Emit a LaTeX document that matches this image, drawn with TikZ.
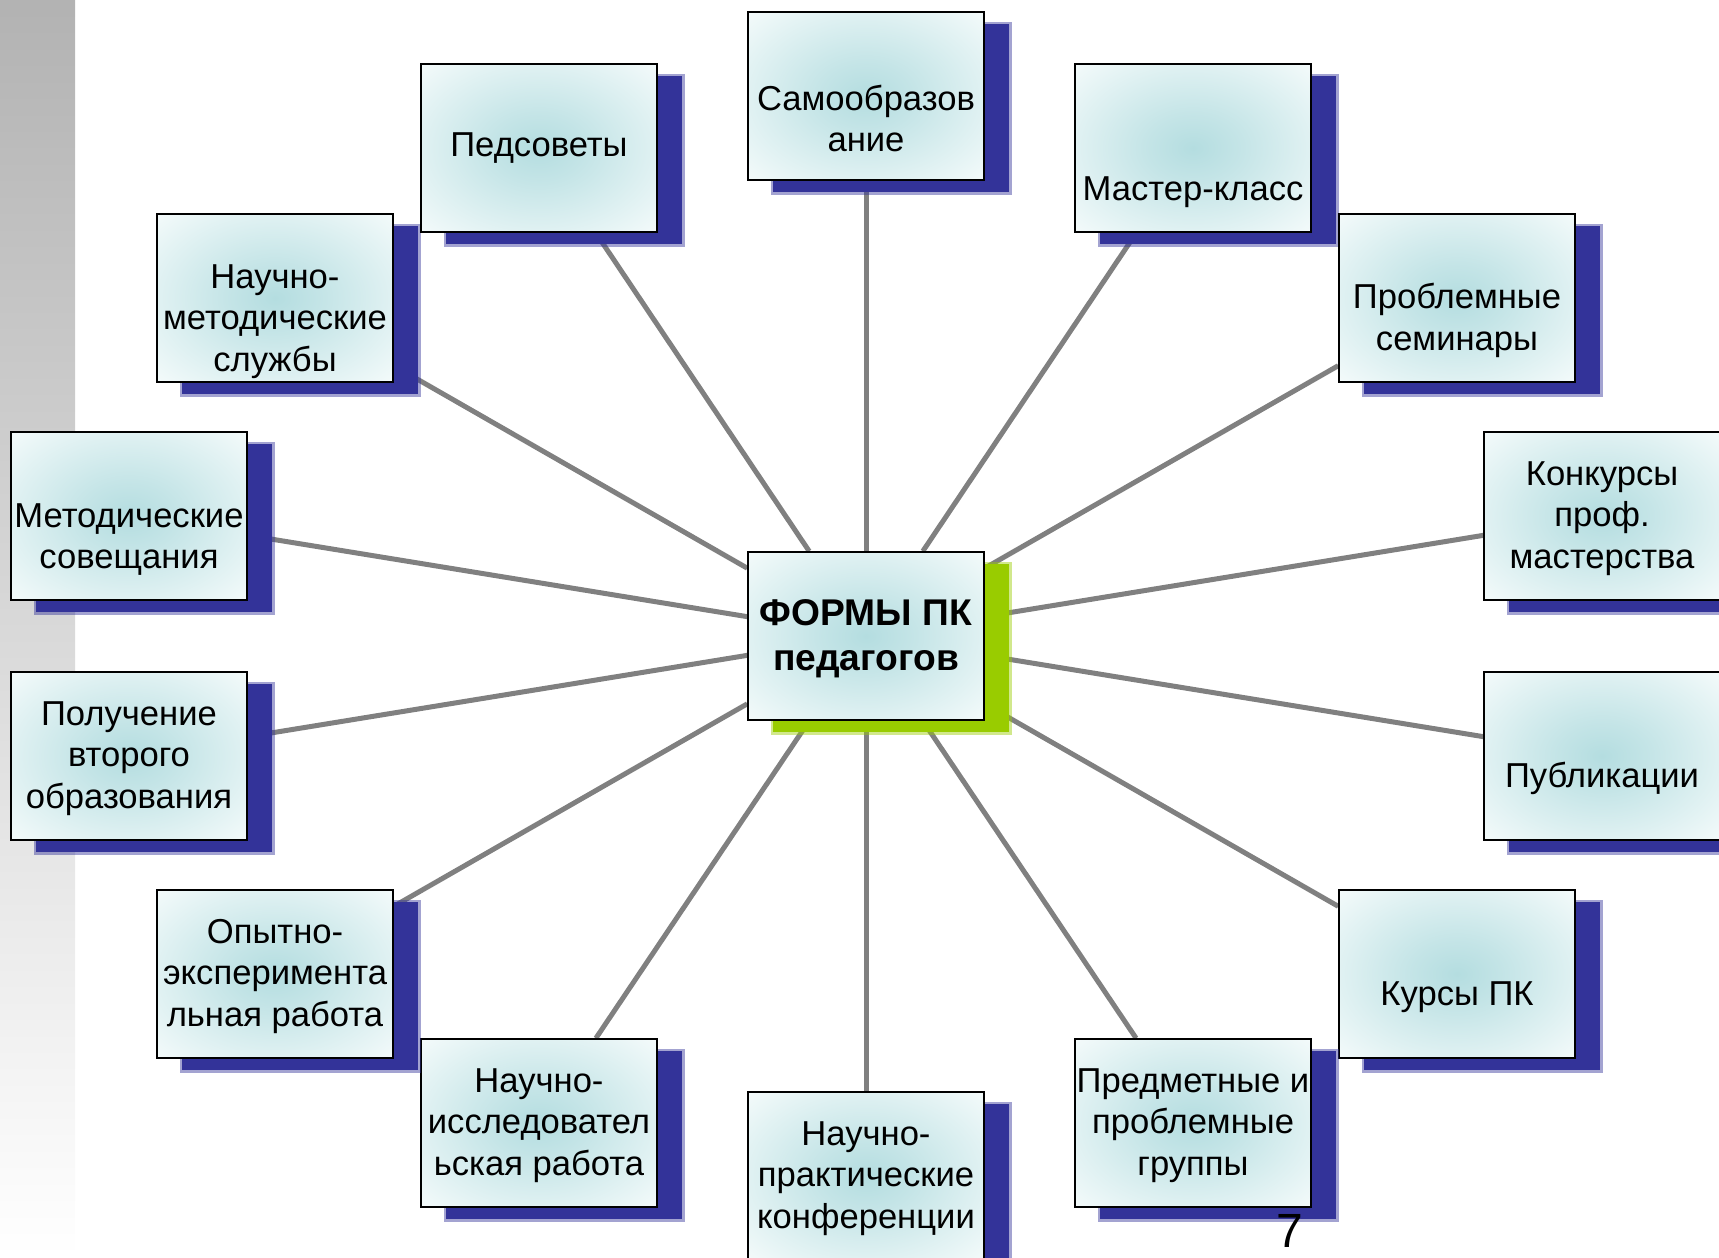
\documentclass[tikz,border=0pt]{standalone}
\usepackage{fontspec}
\setmainfont{Liberation Sans}
\usetikzlibrary{shadows,backgrounds}

\definecolor{shadowblue}{RGB}{51,51,153}
\definecolor{hubgreen}{RGB}{153,204,0}
\definecolor{spokegray}{RGB}{128,128,128}
\definecolor{glowcore}{RGB}{180,221,224}
\definecolor{glowrim}{RGB}{245,251,251}
\pgfdeclareradialshading{glow}{\pgfpoint{0bp}{0bp}}{color(0bp)=(glowcore); color(10bp)=(glowcore!75!glowrim); color(36bp)=(glowrim); color(50bp)=(glowrim)}

\begin{document}
\begin{tikzpicture}[x=0.5pt,y=-0.5pt]

%
% Styles
%
\tikzstyle{card} = [rectangle,draw=black,line width=0.8pt,shading=glow,
                    minimum width=118pt,minimum height=84pt,inner sep=0pt,align=center]
\tikzstyle{topic} = [card,font=\fontsize{17.3}{20.8}\selectfont,
                     drop shadow={shadow xshift=12.5pt,shadow yshift=-6pt,fill=shadowblue,
                                  fill opacity=1,draw=shadowblue,line width=2.5pt,draw opacity=.45}]
\tikzstyle{hub} = [card,font=\fontsize{18.6}{22.4}\selectfont\bfseries,
                   drop shadow={shadow xshift=12.5pt,shadow yshift=-6pt,fill=hubgreen,
                                fill opacity=1,draw=hubgreen,line width=2.5pt,draw opacity=.45}]
\tikzstyle{spoke} = [draw=spokegray,line width=2.5pt]

\useasboundingbox (0,0) rectangle (1719,1258);

\node[hub] (core) at (866,636) {\strut ФОРМЫ ПК\\педагогов};

\node[topic] (self)       at ( 866,  96) {\strut\\Самообразов\\ание};
\node[topic] (master)     at (1193, 148) {\strut\\\\Мастер-класс};
\node[topic] (seminar)    at (1457, 298) {\strut\\Проблемные\\семинары};
\node[topic] (contest)    at (1602, 516) {\strut Конкурсы\\проф.\\мастерства};
\node[topic] (publish)    at (1602, 756) {\strut\\Публикации};
\node[topic] (courses)    at (1457, 974) {\strut\\Курсы ПК};
\node[topic] (groups)     at (1193,1123) {\strut Предметные и\\проблемные\\группы};
\node (page) at (1290,1231) {\fontsize{24}{28}\selectfont 7};
\node[topic] (conference) at ( 866,1176) {\strut Научно-\\практические\\конференции};
\node[topic] (research)   at ( 539,1123) {\strut Научно-\\исследовател\\ьская работа};
\node[topic] (experiment) at ( 275, 974) {\strut Опытно-\\эксперимента\\льная работа};
\node[topic] (degree)     at ( 129, 756) {\strut Получение\\второго\\образования};
\node[topic] (meeting)    at ( 129, 516) {\strut\\Методические\\совещания};
\node[topic] (service)    at ( 275, 298) {\strut\\Научно-\\методические\\службы};
\node[topic] (council)    at ( 539, 148) {\strut Педсоветы};

\begin{pgfonlayer}{background}
  \shade[top color=black!30,middle color=black!16,bottom color=white] (0,0) rectangle (75,1258);
  \draw[spoke] (core) -- (self);
  \draw[spoke] (core) -- (master);
  \draw[spoke] (core) -- (seminar);
  \draw[spoke] (core) -- (contest);
  \draw[spoke] (core) -- (publish);
  \draw[spoke] (core) -- (courses);
  \draw[spoke] (core) -- (groups);
  \draw[spoke] (core) -- (conference);
  \draw[spoke] (core) -- (research);
  \draw[spoke] (core) -- (experiment);
  \draw[spoke] (core) -- (degree);
  \draw[spoke] (core) -- (meeting);
  \draw[spoke] (core) -- (service);
  \draw[spoke] (core) -- (council);
\end{pgfonlayer}

\end{tikzpicture}
\end{document}
